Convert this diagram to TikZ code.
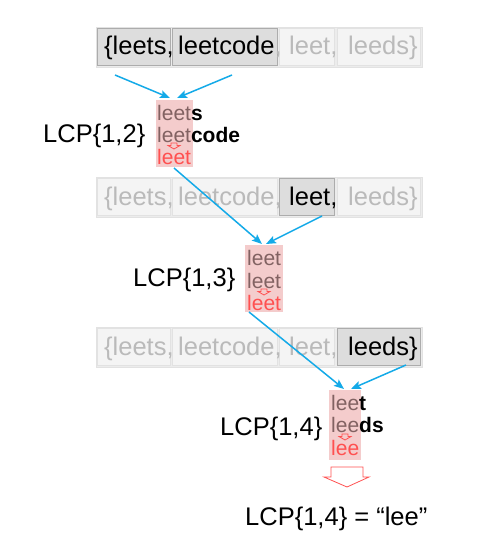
\documentclass[tikz,border=0pt]{standalone}
\usepackage{fontspec}
\setmainfont{Liberation Sans}
\usetikzlibrary{arrows.meta}
\definecolor{stripbg}{RGB}{236,236,236}
\definecolor{lboxfill}{RGB}{244,244,244}
\definecolor{lboxdraw}{RGB}{226,226,226}
\definecolor{dboxfill}{RGB}{221,221,221}
\definecolor{dboxdraw}{RGB}{172,172,172}
\definecolor{lighttext}{RGB}{186,186,186}
\definecolor{pinkc}{RGB}{244,204,204}
\definecolor{brownt}{RGB}{130,98,98}
\definecolor{redt}{RGB}{255,80,80}
\definecolor{bluea}{RGB}{20,170,232}
\tikzset{
  strip/.style={fill=stripbg,draw=lboxdraw,line width=0.8pt,inner sep=0pt,anchor=north west},
  lbox/.style={fill=lboxfill,draw=lboxdraw,line width=0.8pt,inner sep=0pt,anchor=north west},
  dbox/.style={fill=dboxfill,draw=dboxdraw,line width=1.2pt,inner sep=0pt,anchor=north west},
  word/.style={anchor=base west,inner sep=0pt,font=\fontsize{25.5}{30}\selectfont},
  ltxt/.style={word,text=lighttext},
  dtxt/.style={word,text=black},
  pinkbox/.style={fill=pinkc,draw=none,inner sep=0pt,anchor=north west},
  lcpw/.style={anchor=base west,inner sep=0pt,font=\fontsize{21}{24}\selectfont},
  lcpr/.style={lcpw,text=redt},
  biglab/.style={anchor=base west,inner sep=0pt,font=\fontsize{25.5}{30}\selectfont},
  conn/.style={draw=bluea,line width=1.5pt,-{Stealth[length=10pt,width=8pt,inset=2pt]}},
  hollow/.style={draw=redt,line width=0.8pt},
}
% #1 prefix, #2 baseline, #3-#6 styles l/d of boxes
\newcommand\wordrow[6]{%
  \node[strip,minimum width=326,minimum height=40] (#1s) at (96,#2-28) {};
  \node[#3box,minimum width=73,minimum height=37] (#1b1) at (97,#2-27) {};
  \node[#4box,minimum width=105,minimum height=37] (#1b2) at (172,#2-27) {};
  \node[#5box,minimum width=55,minimum height=37] (#1b3) at (279,#2-27) {};
  \node[#6box,minimum width=83,minimum height=37] (#1b4) at (337,#2-27) {};
  \node[#3txt] (#1t1) at (104,#2) {\{leets,};
  \node[#4txt] (#1t2) at (178,#2) {leetcode{\color{lighttext},}};
  \node[#5txt] (#1t3) at (289,#2) {leet,};
  \node[#6txt] (#1t4) at (348,#2) {leeds\}};
}
\newcommand\smallarrow[2]{% center x, top y
  \draw[hollow] (#1-3,#2) -- (#1+3,#2) -- (#1+3,#2+2.5) -- (#1+6,#2+2.5) -- (#1,#2+6) -- (#1-6,#2+2.5) -- (#1-3,#2+2.5) -- cycle;
}
\begin{document}
\begin{tikzpicture}[x=1pt,y=-1pt]
\useasboundingbox[fill=white] (0,0) rectangle (486,551);

% rows of words
\wordrow{ra}{55}{d}{d}{l}{l}
\wordrow{rb}{205}{l}{l}{d}{l}
\wordrow{rc}{355}{l}{l}{l}{d}

% LCP{1,2}
\node[pinkbox,minimum width=37,minimum height=67] (p12) at (156,100) {};
\node[lcpw] (a12) at (157,120) {{\color{brownt}leet}\textbf{s}};
\node[lcpw] (b12) at (157,142) {{\color{brownt}leet}\textbf{code}};
\node[lcpr] (c12) at (157,164) {leet};
\smallarrow{174}{143}
\node[biglab] (l12) at (43,142) {LCP\{1,2\}};

% LCP{1,3}
\node[pinkbox,minimum width=38,minimum height=67] (p13) at (245,245) {};
\node[lcpw] (a13) at (247,265) {{\color{brownt}leet}};
\node[lcpw] (b13) at (247,288) {{\color{brownt}leet}};
\node[lcpr] (c13) at (247,310) {leet};
\smallarrow{264}{289}
\node[biglab] (l13) at (133,286) {LCP\{1,3\}};

% LCP{1,4}
\node[pinkbox,minimum width=32,minimum height=70] (p14) at (329,390) {};
\node[lcpw] (a14) at (331,410) {{\color{brownt}lee}\textbf{t}};
\node[lcpw] (b14) at (331,432) {{\color{brownt}lee}\textbf{ds}};
\node[lcpr] (c14) at (331,455) {lee};
\smallarrow{345}{434}
\node[biglab] (l14) at (220,435) {LCP\{1,4\}};

% big hollow arrow and result
\draw[hollow,fill=white] (331,467) -- (363,467) -- (363,477) -- (369,477) -- (347,487) -- (324,477) -- (331,477) -- cycle;
\node[biglab] (res) at (245,525) {LCP\{1,4\} = “lee”};

% connector coordinates
\coordinate (s1) at (115,75);
\coordinate (s2) at (232,75);
\coordinate (e1) at (170,98);
\coordinate (e2) at (177,98);
\coordinate (s3) at (174,168);
\coordinate (s4) at (322,216);
\coordinate (e3) at (262,244);
\coordinate (e4) at (266,244);
\coordinate (s5) at (249,312);
\coordinate (s6) at (406,365);
\coordinate (e5) at (344,389);
\coordinate (e6) at (351,389);

\draw[conn] (s1) -- (e1);
\draw[conn] (s2) -- (e2);
\draw[conn] (s3) -- (e3);
\draw[conn] (s4) -- (e4);
\draw[conn] (s5) -- (e5);
\draw[conn] (s6) -- (e6);
\end{tikzpicture}
\end{document}
